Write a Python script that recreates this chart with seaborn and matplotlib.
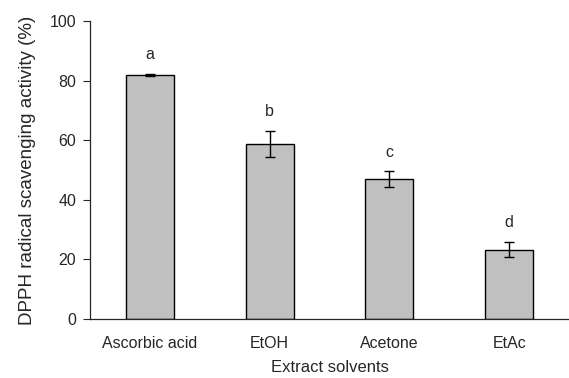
import matplotlib
matplotlib.use("Agg")
import matplotlib.pyplot as plt
import seaborn as sns
import pandas as pd

categories = ["Ascorbic acid", "EtOH", "Acetone", "EtAc"]
values = [82.0, 58.8, 46.9, 23.3]
errors = [0.3, 4.4, 2.6, 2.4]
letters = ["a", "b", "c", "d"]

sns.set_style("ticks")
plt.rcParams['font.family'] = ['Liberation Sans', 'DejaVu Sans']

df = pd.DataFrame({"cat": categories, "val": values})

fig = plt.figure(figsize=(5.69, 3.78), dpi=100)
ax = fig.add_axes([90/569, 59/378, 479/569, 298/378])
sns.barplot(data=df, x="cat", y="val", color="#C0C0C0", edgecolor="black",
            linewidth=1.0, width=0.4, saturation=1, ax=ax, errorbar=None)
ax.errorbar(range(len(categories)), values, yerr=errors, fmt="none",
            ecolor="black", elinewidth=1.0, capsize=3.5, capthick=1.0)
for i, (v, e, l) in enumerate(zip(values, errors, letters)):
    ax.text(i, v + e + 4, l, ha="center", va="bottom", fontsize=11.5)

ax.set_xlim(-0.5, 3.5)
ax.set_ylim(0, 100)
ax.set_yticks([0, 20, 40, 60, 80, 100])
ax.tick_params(axis="y", labelsize=11.5, length=5, width=0.8, direction="out", pad=5)
ax.tick_params(axis="x", labelsize=11.5, length=0, pad=12)
ax.set_xlabel("Extract solvents", fontsize=12, labelpad=7)
ax.set_ylabel("DPPH radical scavenging activity (%)", fontsize=13.5, labelpad=10)
for s in ["top", "right"]:
    ax.spines[s].set_visible(False)
for s in ["left", "bottom"]:
    ax.spines[s].set_linewidth(0.9)

fig.savefig("out.png", dpi=100)
